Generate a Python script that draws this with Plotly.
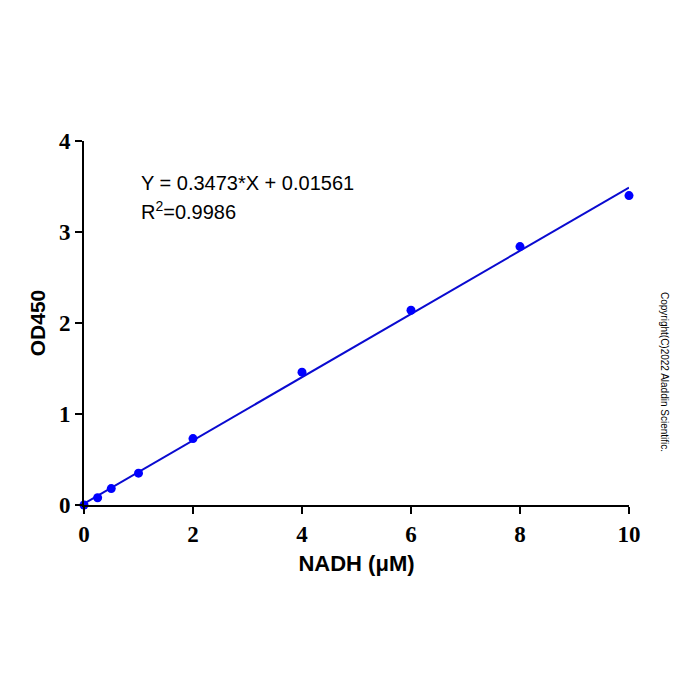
import plotly.graph_objects as go

nadh = [0, 0.25, 0.5, 1, 2, 4, 6, 8, 10]
od450 = [0.0, 0.08, 0.18, 0.35, 0.73, 1.46, 2.14, 2.84, 3.40]
slope = 0.3473
intercept = 0.01561
fit_x = [0, 10]
fit_y = [slope * x + intercept for x in fit_x]
x_ticks = [0, 2, 4, 6, 8, 10]
y_ticks = [0, 1, 2, 3, 4]

fig = go.Figure()
fig.add_trace(go.Scatter(x=fit_x, y=fit_y, mode="lines",
                         line=dict(color="#0a0ad0", width=2), cliponaxis=False,
                         showlegend=False))
fig.add_trace(go.Scatter(x=nadh, y=od450, mode="markers",
                         marker=dict(color="#0000ff", size=9), cliponaxis=False,
                         showlegend=False))

tickfont = dict(family="Liberation Serif", size=23, color="black", weight="bold")
fig.update_layout(
    width=700, height=700,
    margin=dict(l=84, r=71, t=141, b=195),
    paper_bgcolor="white", plot_bgcolor="white",
    xaxis=dict(range=[0, 10], tickvals=x_ticks, ticks="outside", ticklen=7,
               tickwidth=2, tickcolor="black", showline=True, linecolor="black",
               linewidth=2, showgrid=False, zeroline=False, tickfont=tickfont,
               title=dict(text="<b>NADH (μM)</b>", standoff=10,
                          font=dict(family="Liberation Sans", size=22, color="black"))),
    yaxis=dict(range=[0, 4], tickvals=y_ticks, ticks="outside", ticklen=7,
               tickwidth=2, tickcolor="black", showline=True, linecolor="black",
               linewidth=2, showgrid=False, zeroline=False, tickfont=tickfont,
               title=dict(text="<b>OD450</b>", standoff=8,
                          font=dict(family="Liberation Sans", size=21, color="black"))),
    annotations=[
        dict(text="Y = 0.3473*X + 0.01561", xref="paper", yref="paper",
             x=(139 - 84) / 545, y=(505 - 183) / 364, xanchor="left", yanchor="middle",
             showarrow=False, font=dict(family="Liberation Sans", size=20, color="black")),
        dict(text="R<sup>2</sup>=0.9986", xref="paper", yref="paper",
             x=(139 - 84) / 545, y=(505 - 210) / 364, xanchor="left", yanchor="middle",
             showarrow=False, font=dict(family="Liberation Sans", size=20, color="black")),
        dict(text="Copyright(C)2022 Aladdin Scientific.", xref="paper", yref="paper",
             x=(665 - 84) / 545, y=(505 - 372) / 364, xanchor="center", yanchor="middle",
             textangle=90, showarrow=False,
             font=dict(family="Liberation Sans", size=10, color="black")),
    ],
)

fig.write_html("out.html")
